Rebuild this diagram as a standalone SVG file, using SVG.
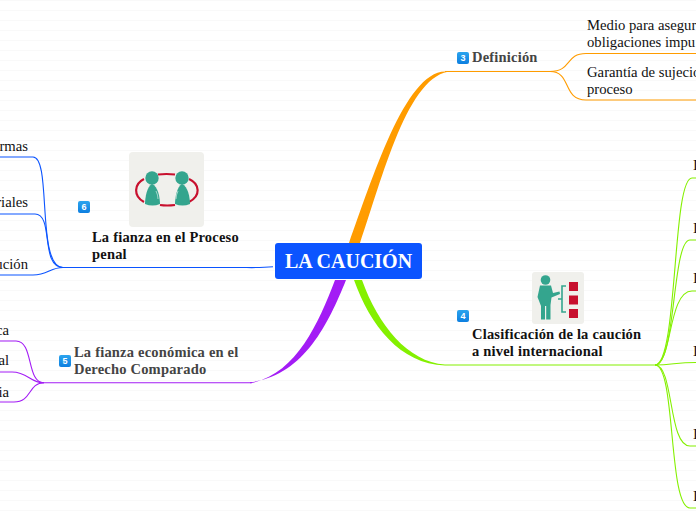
<svg xmlns="http://www.w3.org/2000/svg" width="696" height="520" viewBox="0 0 696 520">
<defs>
<pattern id="bg" width="696" height="10" patternUnits="userSpaceOnUse"><rect width="696" height="10" fill="#fff"/><rect y="0" width="696" height="1" fill="#f9f9f9"/></pattern>
<linearGradient id="bd" x1="0" y1="0" x2="0" y2="1"><stop offset="0" stop-color="#2ba4ee"/><stop offset="1" stop-color="#0d7fe0"/></linearGradient>
</defs>
<style>
text{font-family:"Liberation Serif","Times New Roman",serif;font-size:14.7px;fill:#111}
.b{font-weight:bold;letter-spacing:.2px;font-size:14.5px}
.g{fill:#444}
.k{fill:none;stroke-width:1.1}
.o{stroke:#ff9c00}.l{stroke:#84f000}.v{stroke:#a31cf5}.u{stroke:#0b54ff}
.badge{fill:url(#bd)}
.bt{font-family:"Liberation Sans",sans-serif;font-size:9px;font-weight:bold;fill:#fff;text-anchor:middle}
.teal{fill:#34a58e}.red{fill:#c8102e}
.arc{fill:none;stroke:#c8102e;stroke-width:2.2}
</style>
<rect width="696" height="520" fill="url(#bg)"/>
<g id="connectors">
<path d="M349 243C372 180 405 72 445 71.500H452C408 72 382 180 360 243Z" fill="#ff9c00"/>
<path class="k o" d="M445 71.500H550"/>
<path class="k o" d="M550 71.500C572 71.500 565 53.500 586 53.500H696"/>
<path class="k o" d="M550 71.500C572 71.500 562 100 586 100H696"/>
<path d="M354 280C370 325 400 364 445 365.500V364.500C408 362 378 325 362 280Z" fill="#84f000"/>
<path class="k l" d="M445 365H655"/>
<path class="k l" d="M655 365C678 365 672 178 692 178H696"/>
<path class="k l" d="M655 365C676 365 672 240 690 240H696"/>
<path class="k l" d="M655 365C672 365 668 291 692 291H696"/>
<path class="k l" d="M655 365C672 365 676 362.500 696 362.500"/>
<path class="k l" d="M655 365C674 365 668 446 690 446H696"/>
<path class="k l" d="M655 365C676 365 668 508 690 508H696"/>
<path d="M335 280C318 325 295 375 250 383.300V382.300C303 376 328 325 346 280Z" fill="#a31cf5"/>
<path class="k v" d="M252 382.800H44"/>
<path class="k v" d="M44 382.800C26 382.800 34 341 16 341H0"/>
<path class="k v" d="M44 382.800C30 382.800 28 372 12 372H0"/>
<path class="k v" d="M44 382.800C28 382.800 32 402 14 402H0"/>
<path class="k u" d="M273 266.800C260 268 250 267.500 240 267.500H63" stroke-width="1.4"/>
<path class="k u" d="M63 267.500C36 267.500 52 157 33 157H0"/>
<path class="k u" d="M63 267.500C40 267.500 54 214 35 214H0"/>
<path class="k u" d="M63 267.500C50 267.500 48 275 33 275H0"/>
</g>
<g id="center">
<rect x="275" y="243" width="147" height="36" rx="3" fill="#0b54ff"/>
<text x="348.500" y="268" text-anchor="middle" style="font-size:20px;font-weight:bold;fill:#fff">LA CAUCIÓN</text>
</g>
<g id="definicion">
<rect class="badge" x="457" y="52" width="12" height="12" rx="2"/><text class="bt" x="463" y="61">3</text>
<text class="b g" x="472" y="62">Definición</text>
</g>
<g id="def1"><text x="587" y="30">Medio para asegur</text><text x="587" y="47">obligaciones impu</text></g>
<g id="def2"><text x="587" y="77">Garantía de sujecio</text><text x="587" y="94">proceso</text></g>
<g id="clasificacion">
<rect x="532" y="272" width="52" height="52" rx="3" fill="#f0f0ec"/>
<circle class="teal" cx="545.500" cy="280" r="4.800"/>
<path class="teal" d="M540 285.500H551L553 293L559.500 291.500L560 294L551.500 297.500L550.500 305V319.500H546.200V306H545V319.500H541V306L537.500 297Z"/>
<path d="M566 286H562V312H566M562 299H558" fill="none" stroke="#34a58e" stroke-width="1.600"/>
<rect class="red" x="569" y="282" width="9" height="9"/><rect class="red" x="569" y="295.500" width="9" height="9"/><rect class="red" x="569" y="309" width="9" height="9"/>
<rect class="badge" x="457" y="310" width="12" height="12" rx="2"/><text class="bt" x="463" y="319">4</text>
<text class="b" x="472" y="339">Clasificación de la caución</text><text class="b" x="472" y="356">a nivel internacional</text>
</g>
<g id="c1"><text x="693" y="170">I</text></g>
<g id="c2"><text x="693" y="233">I</text></g>
<g id="c3"><text x="693" y="283">I</text></g>
<g id="c4"><text x="693" y="356">I</text></g>
<g id="c5"><text x="693" y="439">I</text></g>
<g id="c6"><text x="693" y="501">I</text></g>
<g id="fianza-economica">
<rect class="badge" x="59" y="355" width="12" height="12" rx="2"/><text class="bt" x="65" y="364">5</text>
<text class="b g" x="74" y="357">La fianza económica en el</text><text class="b g" x="74" y="374">Derecho Comparado</text>
</g>
<g id="e1"><text x="9" y="335" text-anchor="end">ca</text></g>
<g id="e2"><text x="9" y="365" text-anchor="end">al</text></g>
<g id="e3"><text x="9" y="397" text-anchor="end">ia</text></g>
<g id="fianza-proceso">
<rect x="129" y="152" width="75" height="75" rx="4" fill="#f0f0ec"/>
<path class="arc" d="M158 174.500Q166.500 173.500 175 174.500M160 205Q167 206 175 205M144 179C134 184 133 196 144 202M189 179C200 184 201 196 189 202"/>
<circle class="teal" cx="152" cy="178" r="6.700"/><circle class="teal" cx="182" cy="178" r="6.700"/>
<path class="teal" d="M152 184C147 186 145 198 145 204C150 206 155 206 160 204C160 198 158 186 152 184Z"/>
<path class="teal" d="M182 184C177 186 175 198 175 204C180 206 185 206 190 204C190 198 188 186 182 184Z"/>
<path d="M156 191Q158 195 158 199M178 191Q176 195 176 199" fill="none" stroke="#bfe2da" stroke-width=".8"/>
<rect class="badge" x="78" y="201" width="12" height="12" rx="2"/><text class="bt" x="84" y="210">6</text>
<text class="b" x="92" y="242">La fianza en el Proceso</text><text class="b" x="92" y="259">penal</text>
</g>
<g id="p1"><text x="28" y="151" text-anchor="end">rmas</text></g>
<g id="p2"><text x="28" y="207" text-anchor="end">riales</text></g>
<g id="p3"><text x="28" y="269" text-anchor="end">ución</text></g>
</svg>
